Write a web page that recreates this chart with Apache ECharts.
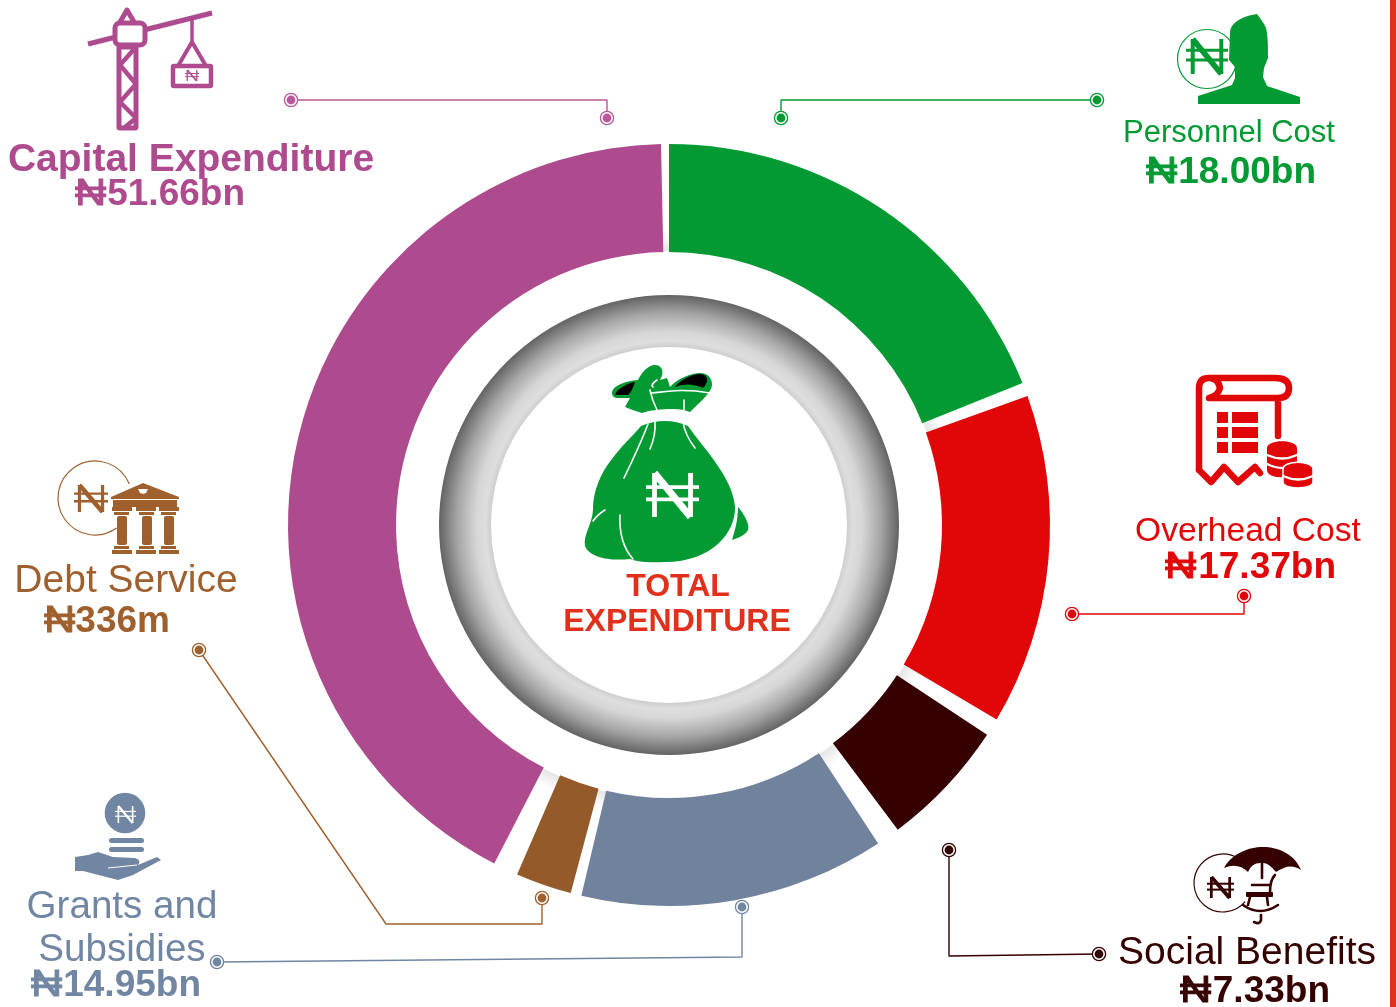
<!DOCTYPE html>
<html>
<head>
<meta charset="utf-8">
<title>Total Expenditure</title>
<script src="https://cdn.jsdelivr.net/npm/echarts@6/dist/echarts.min.js"></script>
<style>
  html, body { margin: 0; padding: 0; background: #fff; }
  #box { width: 1396px; height: 1007px; }
</style>
</head>
<body>
<div id="box"></div>
<script>
// ring slices (sweep of each slice, and the empty gap after it)
var categories = ["Personnel Cost", "Overhead Cost", "Social Benefits", "Grants and Subsidies", "Debt Service", "Capital Expenditure"];
var ringValues = [68.1, 50.5, 19.7, 46.6, 8.55, 151.5];
var ringGaps = [2.1, 2.7, 3.6, 1.65, 3.8, 1.2];
var amounts = ["18.00bn", "17.37bn", "7.33bn", "14.95bn", "336m", "51.66bn"];
var colors = ["#039a33", "#e10709", "#360000", "#70829c", "#955a2a", "#ae4a8e"];

var GREEN = "#039a33", RED = "#e10709", MAROON = "#360000", SLATE = "#7186a2", BROWN = "#a0602e", PURPLE = "#ae4a8e", TITLE = "#e1301c";
var FONT = '"Liberation Sans", Arial, sans-serif';

var ringData = [];
categories.forEach(function (name, i) {
  ringData.push({ name: name, value: ringValues[i], itemStyle: { color: colors[i] } });
  ringData.push({ name: "gap" + i, value: ringGaps[i], itemStyle: { color: "transparent" } });
});

// freehand icon outlines, page coordinates
var shapes = {
  bagBody: "M641 426 Q665 416 688 426 C705 450 733 478 735 507 C736 532 712 562 665 562 C645 563 635 561 630 559 C610 561 590 558 585 546 C583 535 592 525 593 510 C593 470 625 445 641 426 Z M738 507 C745 515 750 525 748 530 C745 536 735 539 732 540 C735 530 738 520 738 507 Z",
  bagKnot: "M612 393 C612 386 625 381 638 380 C642 372 648 365 655 365 C662 365 665 372 660 380 L667 378 L670 387 C678 378 692 373 700 373 C708 373 712 378 712 385 C712 392 700 402 690 412 C685 410 680 409 673 409 C662 409 650 410 642 413 C635 411 630 409 625 407 L630 398 L618 398 C614 398 612 396 612 393 Z",
  bagHoles: "M615 395 C616 389 628 383 635 382 C633 388 631 393 628 395 Z M675 387 C680 380 692 374 700 374 C706 374 708 378 707 381 C706 385 704 387 703 388 C695 384 685 383 675 387 Z",
  bagCrease: "M620 515 C619 535 625 550 633 559 M593 521 Q598 514 605 510 M648 424 Q640 445 624 478 M655 421 Q656 435 650 449 M683 422 Q685 435 695 448 M650 390 Q652 400 657 410 M657 380 Q650 385 653 387 M652 393 C665 392 680 388 710 393 M684 400 L684 410",
  person: "M1257 14 C1243 16 1231 22 1230 32 L1229 60 L1235 67 L1235 78 L1232 85 L1198 96 L1198 104 L1300 104 L1300 97 L1267 86 L1263 77 L1264 68 L1268 58 C1268 45 1268 36 1266 28 C1264 23 1260 18 1257 14 Z",
  receiptLine: "M1199 470 L1199 388 Q1199 378 1209 378 L1275 378 Q1289 378 1289 388 Q1289 398 1278 398 L1209 398 Q1218 396 1220 388 Q1218 378 1209 378 M1278 398 L1278 436 M1199 470 L1211 482 L1224 467 L1238 482 L1255 467 L1260 473",
  coinA: "M1267 448 C1267 439 1297 439 1297 448 L1297 466 L1283 470 L1283 477 C1275 478 1267 475 1267 470 Z",
  coinB: "M1283 469 C1283 460 1313 460 1313 469 L1313 482 C1313 490 1283 490 1283 482 Z",
  coinStripes: "M1267 455 Q1282 462 1297 455 M1267 464 Q1275 468 1283 468 M1283 476 Q1298 483 1313 476",
  umbrella: "M1224 868 C1232 853 1250 847 1262 847 C1280 847 1295 855 1301 870 Q1290 862 1276 872 Q1268 862 1262 863 Q1252 862 1248 872 Q1238 862 1224 868 Z",
  chair: "M1262 863 L1262 878 M1275 875 Q1270 880 1270 892 M1252 885 L1270 885 M1250 897 L1248 905 M1267 897 L1268 905 M1243 905 Q1260 917 1278 905 M1261 915 L1261 920 Q1260 925 1254 922",
  handBody: "M75 857 L75 871 L83 871 L118 880 L133 875 L161 860 L157 857 L138 865 Q142 860 135 858 L113 857 L98 852 L88 855 Z"
};
Object.keys(shapes).forEach(function (k) {
  echarts.graphic.registerShape(k, echarts.graphic.extendPath(shapes[k]));
});

var g = [];

// y is the baseline here; zrender places text from its top
function text(str, x, y, size, bold, color, align, scaleX, edge) {
  var style = { text: str, fill: color, font: (bold ? "bold " : "") + size + "px " + FONT, textAlign: align || "center" };
  if (edge) {
    style.stroke = color;
    style.lineWidth = edge;
  }
  g.push({ type: "text", x: x, y: y - size * 0.81 + 1, z: 6, scaleX: scaleX || 1, style: style });
}
// the naira sign is wider and lighter in the picture than the bold font's one
function amount(str, left, right, y, color) {
  text("₦", left, y, 37, false, color, "left", 1.17, 0.9);
  text(str, right, y, 37, true, color, "right");
}
function fillPath(name, color, z) { g.push({ type: name, z: z || 3, style: { fill: color, stroke: null } }); }
function linePath(name, color, w, z) { g.push({ type: name, z: z || 3, style: { fill: null, stroke: color, lineWidth: w, lineCap: "round", lineJoin: "round" } }); }
function box(x, y, w, h, color, r, z) { g.push({ type: "rect", z: z || 3, shape: { x: x, y: y, width: w, height: h, r: r || 0 }, style: { fill: color } }); }
function seg(pts, color, w, z) { g.push({ type: "polyline", z: z || 4, shape: { points: pts }, style: { fill: null, stroke: color, lineWidth: w, lineJoin: "round" } }); }
function naira(x0, y0, x1, y1, color, w) {
  // N with the two bars of the naira sign, bars stick out on both sides
  var dx = (x1 - x0) * 0.16, h = y1 - y0;
  seg([[x0 + dx, y1], [x0 + dx, y0]], color, w * 0.8);
  seg([[x1 - dx, y1], [x1 - dx, y0]], color, w * 0.8);
  seg([[x0 + dx, y0], [x1 - dx, y1]], color, w * 1.15);
  seg([[x0, y0 + h * 0.32], [x1, y0 + h * 0.32]], color, w * 0.6);
  seg([[x0, y0 + h * 0.6], [x1, y0 + h * 0.6]], color, w * 0.6);
}
function callout(pts, color) {
  seg(pts, color, 1.4, 2);
  [pts[0], pts[pts.length - 1]].forEach(function (p) {
    g.push({ type: "circle", z: 3, shape: { cx: p[0], cy: p[1], r: 6.6 }, style: { fill: "#fff", stroke: color, lineWidth: 1.3 } });
    g.push({ type: "circle", z: 3, shape: { cx: p[0], cy: p[1], r: 4.4 }, style: { fill: color } });
  });
}
function arc(cx, cy, r, a0, a1, color) {
  g.push({ type: "arc", z: 2, shape: { cx: cx, cy: cy, r: r, startAngle: a0, endAngle: a1, clockwise: true }, style: { fill: null, stroke: color, lineWidth: 1.2 } });
}

// red strip down the right edge
box(1390, 0, 6, 1007, TITLE, 0, 1);

// faint shadow seen through the gaps of the ring
g.push({
  type: "ring", z: 0, shape: { cx: 669, cy: 525, r: 290, r0: 274 },
  style: { fill: { type: "radial", x: 0.5, y: 0.5, r: 0.5, colorStops: [{ offset: 0.94, color: "#e2e2e2" }, { offset: 1, color: "#ffffff" }] } }
});

// grey bevel ring in the middle
g.push({
  type: "ring", z: 1, shape: { cx: 669, cy: 525, r: 230, r0: 178 },
  style: { fill: { type: "radial", x: 0.5, y: 0.5, r: 0.5, colorStops: [
    { offset: 0.77, color: "#cccccc" },
    { offset: 0.80, color: "#dedede" },
    { offset: 0.84, color: "#d6d6d6" },
    { offset: 0.92, color: "#a6a6a6" },
    { offset: 1, color: "#636363" }
  ] } }
});

// callout lines
callout([[291, 100], [607, 100], [607, 118]], "#b8589a");
callout([[781, 118], [781, 100], [1097, 100]], GREEN);
callout([[1072, 614], [1244, 614], [1244, 596]], RED);
callout([[949, 850], [949, 956], [1099, 954]], MAROON);
callout([[742, 907], [742, 957], [217, 962]], SLATE);
callout([[199, 650], [386, 924], [542, 924], [542, 898]], BROWN);

// money bag
fillPath("bagBody", GREEN);
fillPath("bagKnot", GREEN);
fillPath("bagHoles", "#000", 4);
linePath("bagCrease", "#fff", 1.6, 4);
naira(646, 473, 699, 517, "#fff", 6);

// crane
seg([[88, 44], [212, 13]], PURPLE, 5);
seg([[120, 22], [127, 10], [134, 22]], PURPLE, 5);
g.push({ type: "rect", z: 4, shape: { x: 115, y: 23, width: 30, height: 22, r: 5 }, style: { fill: "#fff", stroke: PURPLE, lineWidth: 5 } });
g.push({ type: "rect", z: 3, shape: { x: 119, y: 47, width: 17, height: 81, r: 1 }, style: { fill: "#fff", stroke: PURPLE, lineWidth: 5 } });
seg([[136, 47], [120, 65], [136, 84], [120, 102], [136, 118], [124, 128]], PURPLE, 4.5);
seg([[192, 20], [192, 42]], PURPLE, 3.5);
seg([[178, 66], [192, 42], [206, 66]], PURPLE, 4);
g.push({ type: "rect", z: 4, shape: { x: 173, y: 66, width: 38, height: 20, r: 1 }, style: { fill: "#fff", stroke: PURPLE, lineWidth: 4.5 } });
naira(185, 70, 199, 81, PURPLE, 1.6);

// person
arc(1207, 59, 29.5, 0, Math.PI * 2, GREEN);
fillPath("person", GREEN);
naira(1186, 39, 1228, 74, GREEN, 5);

// receipt and coins
linePath("receiptLine", RED, 6.5);
[412, 427, 442].forEach(function (y) {
  box(1217, y, 11, 11, RED);
  box(1232, y, 26, 11, RED);
});
fillPath("coinA", RED);
g.push({ type: "coinB", z: 4, style: { fill: RED, stroke: "#fff", lineWidth: 1.5 } });
linePath("coinStripes", "#fff", 2.4, 5);

// umbrella and rocking chair
arc(1223, 883, 29, 0.7, Math.PI * 2 - 1.0, MAROON);
fillPath("umbrella", MAROON);
linePath("chair", MAROON, 2.6);
box(1246, 892, 27, 5, MAROON, 1);
naira(1207, 877, 1234, 898, MAROON, 3.4);

// bank
arc(95, 498, 37, 0.95, Math.PI * 2 - 0.39, BROWN);
g.push({ type: "polygon", z: 3, shape: { points: [[111, 497], [143, 483], [179, 497], [179, 499], [111, 499]] }, style: { fill: BROWN } });
g.push({ type: "polygon", z: 4, shape: { points: [[138, 489], [148, 489], [146, 493], [143, 494], [140, 493]] }, style: { fill: "#fff" } });
box(113, 500, 64, 7, BROWN);
box(112, 507, 20, 4, BROWN);
box(136, 507, 20, 4, BROWN);
box(159, 507, 20, 4, BROWN);
[114, 139, 161].forEach(function (x) {
  box(x, 512, 15, 3, BROWN);
  box(x + 3, 516, 10, 29, BROWN, 2);
  box(x, 546, 15, 3, BROWN);
});
box(112, 550, 20, 4, BROWN);
box(136, 550, 20, 4, BROWN);
box(159, 550, 20, 4, BROWN);
naira(74, 485, 108, 512, BROWN, 4);

// coin over a hand
g.push({ type: "circle", z: 3, shape: { cx: 125, cy: 813, r: 20.3 }, style: { fill: SLATE } });
naira(115, 806, 136, 823, "#fff", 2);
box(109, 838, 35, 5, SLATE, 2.5);
box(109, 847, 35, 5, SLATE, 2.5);
fillPath("handBody", SLATE);
seg([[108, 868], [137, 865]], "#fff", 1, 5);

// labels
text(categories[5], 191, 171, 39, true, PURPLE);
amount(amounts[5], 75, 245, 205, PURPLE);
text(categories[0], 1229, 142, 31, false, GREEN);
amount(amounts[0], 1146, 1316, 183, GREEN);
text(categories[1], 1248, 541, 33.6, false, RED);
amount(amounts[1], 1165, 1336, 578, RED);
text(categories[2], 1247, 964, 39, false, MAROON);
amount(amounts[2], 1180, 1330, 1002, MAROON);
text("Grants and", 122, 918, 38.6, false, SLATE);
text("Subsidies", 122, 961, 38.6, false, SLATE);
amount(amounts[3], 31, 201, 996, SLATE);
text(categories[4], 126, 592, 39, false, BROWN);
amount(amounts[4], 44, 170, 632, BROWN);
text("TOTAL", 678, 596, 32, true, TITLE);
text("EXPENDITURE", 677, 631, 32, true, TITLE);

var myChart = echarts.init(document.getElementById("box"));
myChart.setOption({
  animation: false,
  backgroundColor: "#fff",
  graphic: { elements: g },
  series: [
    {
      type: "pie",
      z: 2,
      silent: true,
      center: [669, 525],
      radius: [273, 381],
      startAngle: 90,
      clockwise: true,
      label: { show: false },
      labelLine: { show: false },
      emphasis: { disabled: true },
      data: ringData
    }
  ]
});
</script>
</body>
</html>
